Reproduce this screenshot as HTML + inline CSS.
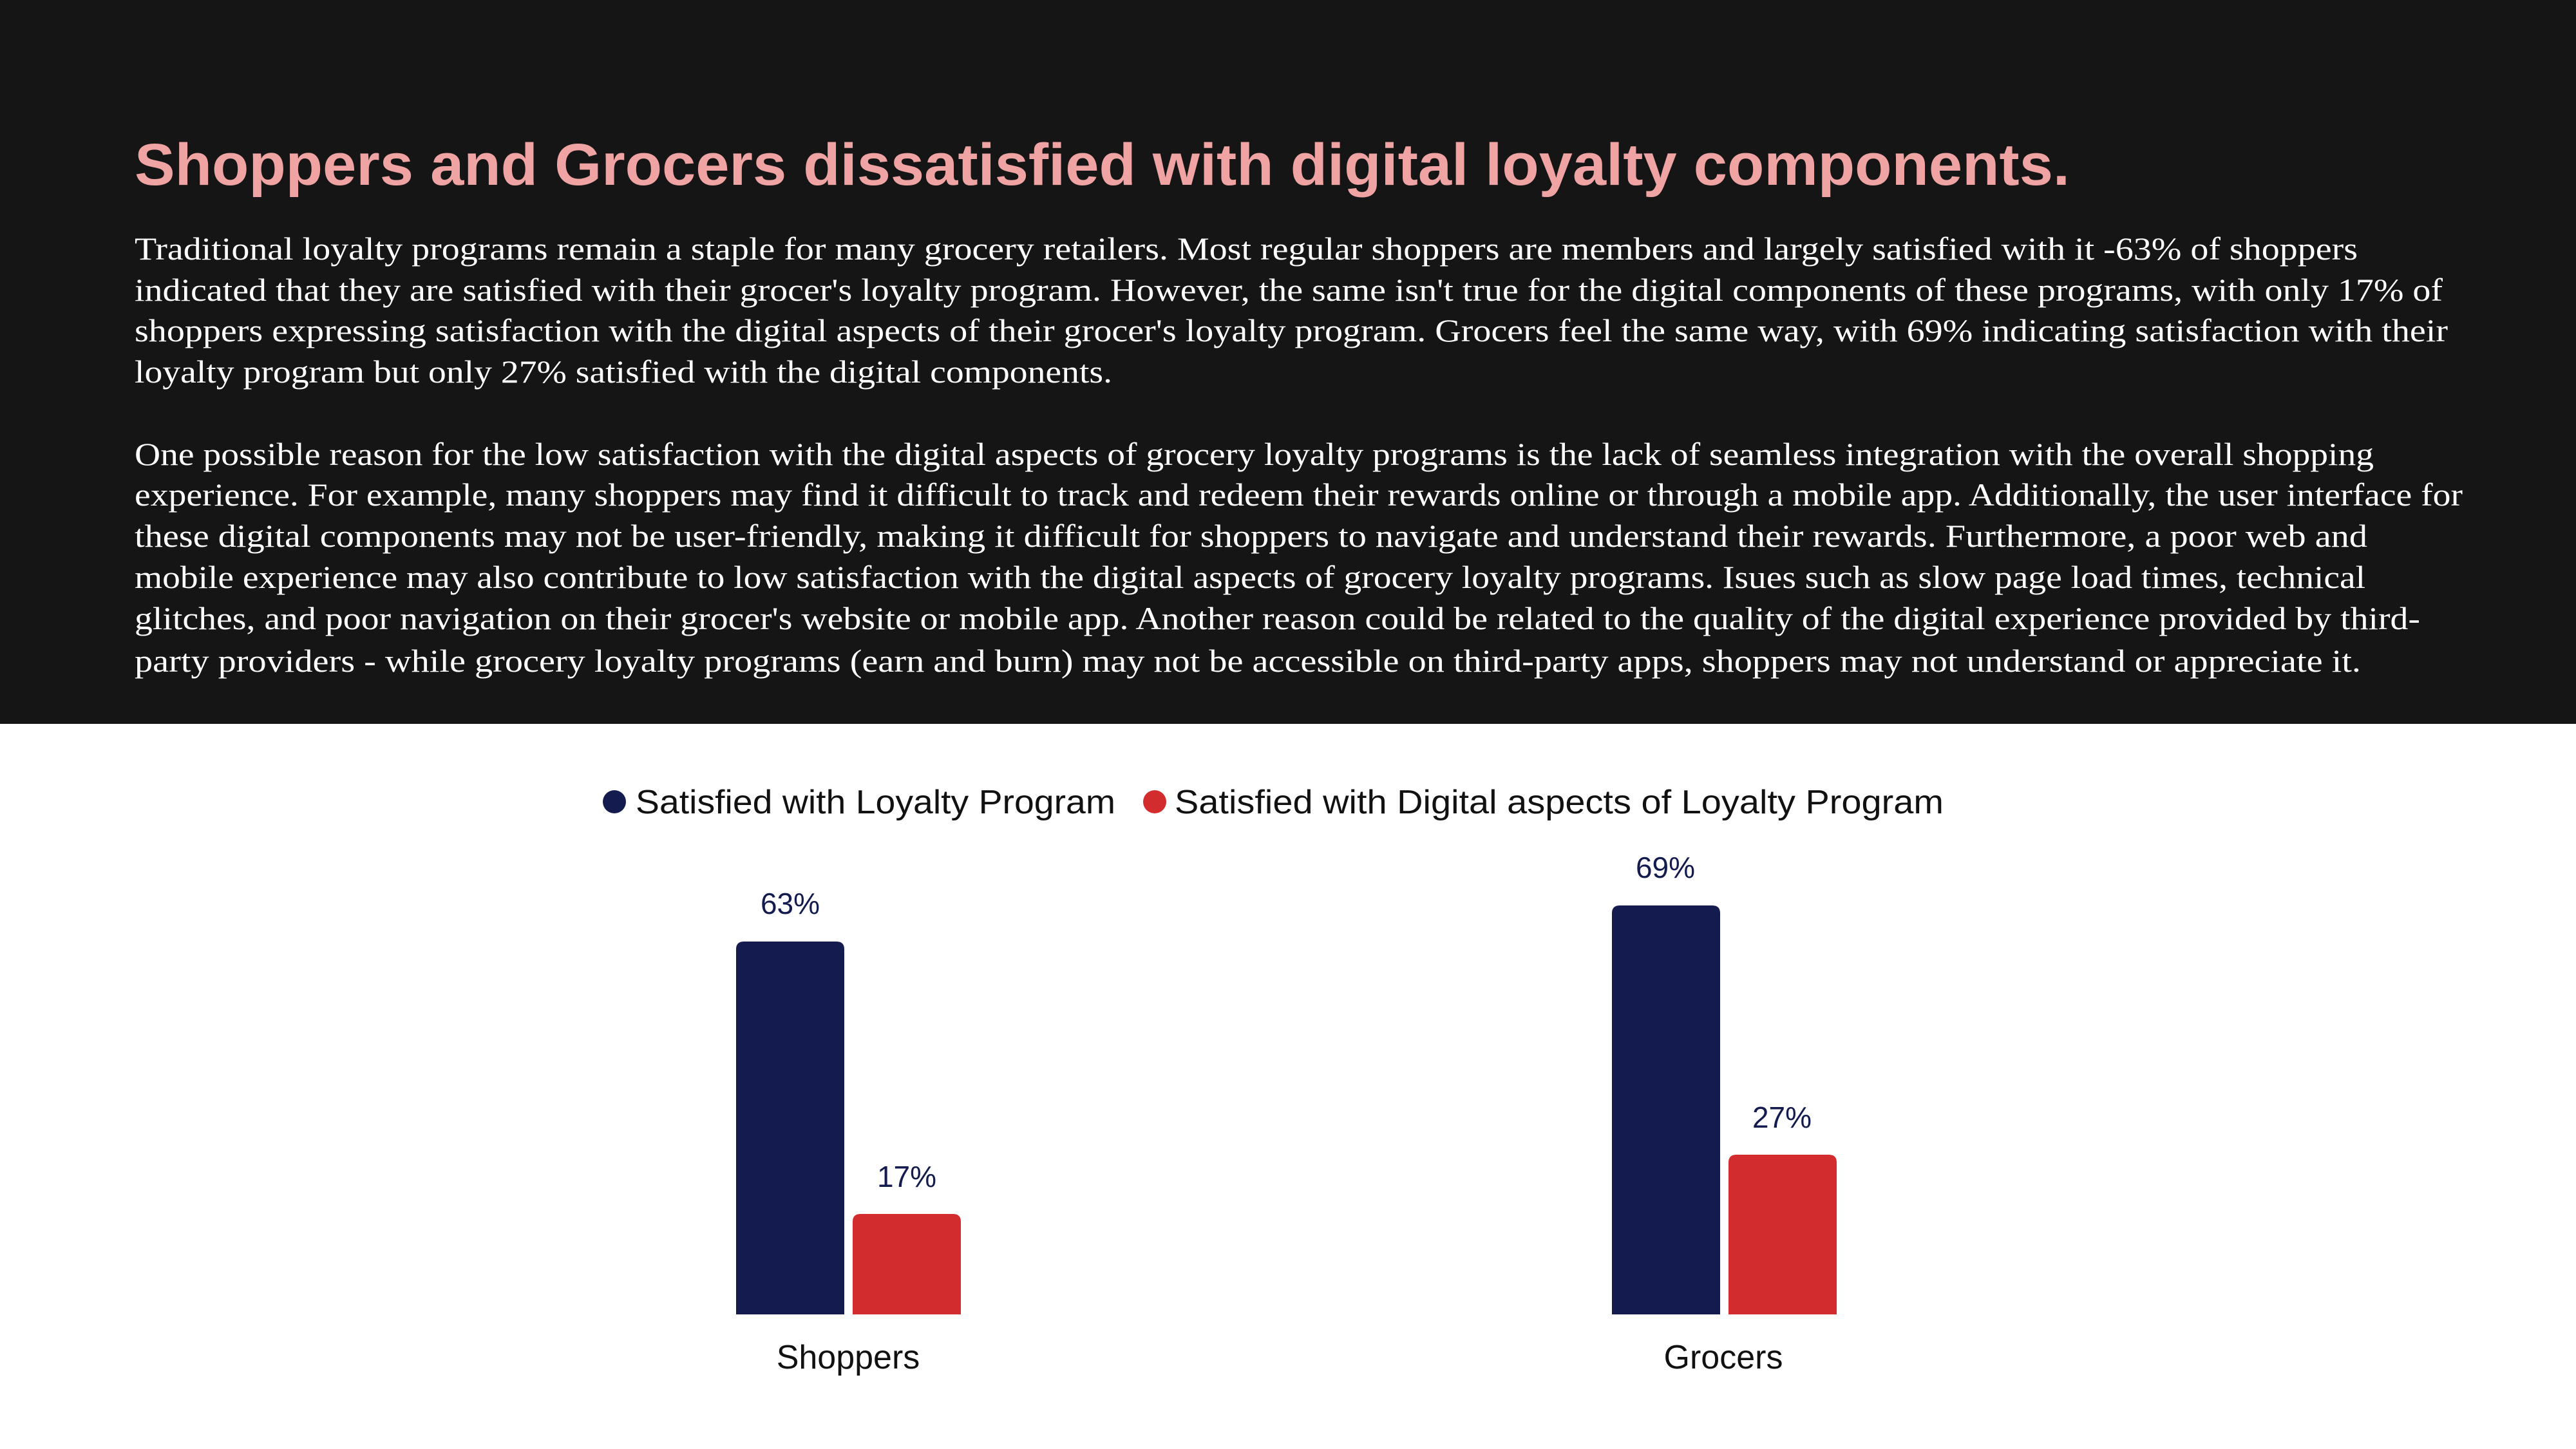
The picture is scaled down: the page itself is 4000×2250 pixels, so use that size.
<!DOCTYPE html>
<html><head><meta charset="utf-8"><style>
html,body{margin:0;padding:0;width:4000px;height:2250px;overflow:hidden;background:#fff}
svg{display:block}
</style></head><body>
<svg width="4000" height="2250" viewBox="0 0 4000 2250" xmlns="http://www.w3.org/2000/svg">
<rect x="0" y="0" width="4000" height="1124" fill="#151515"/>
<text x="209" y="287" font-family="Liberation Sans, sans-serif" font-weight="bold" font-size="92" fill="#efa3a3" textLength="3005" lengthAdjust="spacingAndGlyphs">Shoppers and Grocers dissatisfied with digital loyalty components.</text>
<g font-family="Liberation Serif, serif" font-size="50" fill="#ffffff" lengthAdjust="spacingAndGlyphs">
<text x="209" y="403" textLength="3452" lengthAdjust="spacingAndGlyphs">Traditional loyalty programs remain a staple for many grocery retailers. Most regular shoppers are members and largely satisfied with it -63% of shoppers</text>
<text x="209" y="467" textLength="3584" lengthAdjust="spacingAndGlyphs">indicated that they are satisfied with their grocer's loyalty program. However, the same isn't true for the digital components of these programs, with only 17% of</text>
<text x="209" y="530" textLength="3592" lengthAdjust="spacingAndGlyphs">shoppers expressing satisfaction with the digital aspects of their grocer's loyalty program. Grocers feel the same way, with 69% indicating satisfaction with their</text>
<text x="209" y="594" textLength="1518" lengthAdjust="spacingAndGlyphs">loyalty program but only 27% satisfied with the digital components.</text>
<text x="209" y="722" textLength="3477" lengthAdjust="spacingAndGlyphs">One possible reason for the low satisfaction with the digital aspects of grocery loyalty programs is the lack of seamless integration with the overall shopping</text>
<text x="209" y="785" textLength="3615" lengthAdjust="spacingAndGlyphs">experience. For example, many shoppers may find it difficult to track and redeem their rewards online or through a mobile app. Additionally, the user interface for</text>
<text x="209" y="849" textLength="3467" lengthAdjust="spacingAndGlyphs">these digital components may not be user-friendly, making it difficult for shoppers to navigate and understand their rewards. Furthermore, a poor web and</text>
<text x="209" y="913" textLength="3464" lengthAdjust="spacingAndGlyphs">mobile experience may also contribute to low satisfaction with the digital aspects of grocery loyalty programs. Isues such as slow page load times, technical</text>
<text x="209" y="977" textLength="3549" lengthAdjust="spacingAndGlyphs">glitches, and poor navigation on their grocer's website or mobile app. Another reason could be related to the quality of the digital experience provided by third-</text>
<text x="209" y="1043" textLength="3457" lengthAdjust="spacingAndGlyphs">party providers - while grocery loyalty programs (earn and burn) may not be accessible on third-party apps, shoppers may not understand or appreciate it.</text>
</g>
<circle cx="954" cy="1245" r="18" fill="#141c4f"/>
<circle cx="1793" cy="1245" r="18" fill="#d32c2e"/>
<g font-family="Liberation Sans, sans-serif" font-size="52" fill="#111">
<text x="987" y="1263" textLength="745" lengthAdjust="spacingAndGlyphs">Satisfied with Loyalty Program</text>
<text x="1824" y="1263" textLength="1194" lengthAdjust="spacingAndGlyphs">Satisfied with Digital aspects of Loyalty Program</text>
</g>
<path d="M1143 2041 V1474 Q1143 1462 1155 1462 H1299 Q1311 1462 1311 1474 V2041 Z" fill="#141c4f"/>
<path d="M1324 2041 V1897 Q1324 1885 1336 1885 H1480 Q1492 1885 1492 1897 V2041 Z" fill="#d32c2e"/>
<path d="M2503 2041 V1418 Q2503 1406 2515 1406 H2659 Q2671 1406 2671 1418 V2041 Z" fill="#141c4f"/>
<path d="M2684 2041 V1805 Q2684 1793 2696 1793 H2840 Q2852 1793 2852 1805 V2041 Z" fill="#d32c2e"/>
<g font-family="Liberation Sans, sans-serif" font-size="46" fill="#141c4f" text-anchor="middle">
<text x="1227" y="1419">63%</text>
<text x="1408" y="1843">17%</text>
<text x="2586" y="1363">69%</text>
<text x="2767" y="1751">27%</text>
</g>
<g font-family="Liberation Sans, sans-serif" font-size="52" fill="#111" text-anchor="middle">
<text x="1317" y="2125">Shoppers</text>
<text x="2676" y="2125">Grocers</text>
</g>
</svg>
</body></html>
